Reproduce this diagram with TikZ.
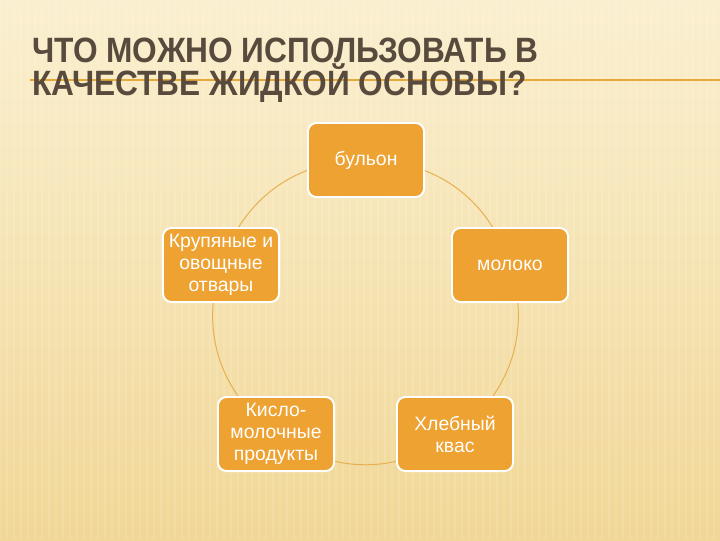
\documentclass[tikz,border=0pt]{standalone}
\usepackage{fontspec}
\setmainfont{Liberation Sans}
\newfontfamily\titlefont[FakeStretch=0.9]{Liberation Sans}
\usetikzlibrary{backgrounds}
\definecolor{bgtop}{RGB}{250,239,207}
\definecolor{bgbottom}{RGB}{241,215,150}
\definecolor{titlebrown}{RGB}{88,74,60}
\definecolor{rulegold}{RGB}{230,168,58}
\definecolor{boxorange}{RGB}{237,162,50}
\definecolor{ringgold}{RGB}{230,176,78}
\begin{document}
\begin{tikzpicture}[x=0.025cm,y=-0.025cm]
        \tikzstyle{item}=[rectangle,rounded corners=6pt,draw=white,line width=1.4pt,fill=boxorange,
                          text=white,align=center,minimum width=2.9cm,minimum height=1.85cm,
                          font=\fontsize{13.8}{15.6}\selectfont]
        \tikzstyle{ring}=[draw=ringgold,line width=0.7pt]
        \useasboundingbox (0,0) rectangle (720,540);
        % title
        \draw[rulegold,line width=1.5pt] (30,80) -- (720,80);
        \node [anchor=base west,inner sep=0pt,align=left,text=titlebrown,
               font=\titlefont\bfseries\fontsize{25}{22}\selectfont] (title) at (32,95)
              {ЧТО МОЖНО ИСПОЛЬЗОВАТЬ В\\[-0.6pt]КАЧЕСТВЕ ЖИДКОЙ ОСНОВЫ?};
        % cycle
        \node [item] (broth) at (366,160) {бульон};
        \node [item] (milk) at (510,265) {молоко};
        \node [item] (kvass) at (455,434) {Хлебный\\квас};
        \node [item] (sour) at (276,434) {Кисло-\\молочные\\продукты};
        \node [item] (grain) at (221,265) {Крупяные и\\овощные\\отвары};
        \begin{scope}[on background layer]
          \shade[top color=bgtop,bottom color=bgbottom] (0,0) rectangle (720,540);
          \foreach \x in {0,7,...,720}
            \draw[white,opacity=0.12,line width=1.2pt] (\x,0) -- (\x,540);
          \path[ring] (broth.center) edge [bend left=36] (milk.center);
          \path[ring] (milk.center) edge [bend left=36] (kvass.center);
          \path[ring] (kvass.center) edge [bend left=36] (sour.center);
          \path[ring] (sour.center) edge [bend left=36] (grain.center);
          \path[ring] (grain.center) edge [bend left=36] (broth.center);
        \end{scope}
\end{tikzpicture}
\end{document}
